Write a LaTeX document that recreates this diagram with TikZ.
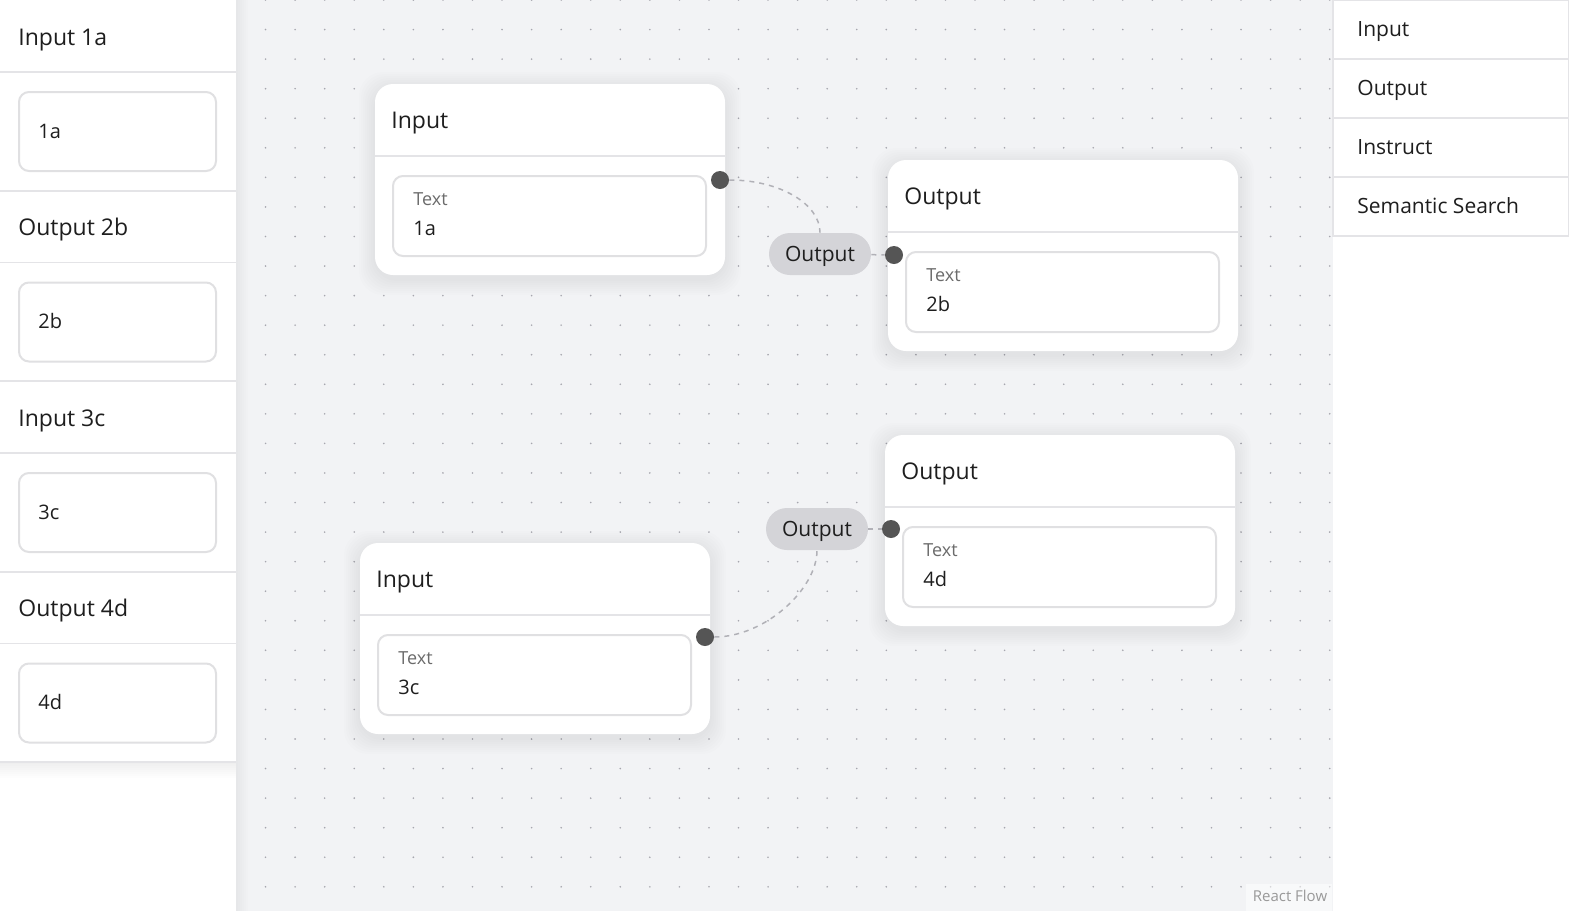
\documentclass[tikz,border=0pt]{standalone}
\usepackage{fontspec}
\setmainfont{Open Sans}
\usetikzlibrary{calc}
\definecolor{canvas}{HTML}{F2F3F5}
\definecolor{rule}{HTML}{E4E4E7}
\definecolor{boxline}{HTML}{E0E0E2}
\definecolor{handle}{HTML}{555555}
\definecolor{pill}{HTML}{D4D4D8}
\definecolor{edge}{HTML}{B1B1B7}
\definecolor{griddot}{HTML}{A6A6AE}
\definecolor{ink}{HTML}{1E1E1E}
\definecolor{label}{HTML}{6B6B6B}
\tikzset{
	hdrtext/.style={anchor=base west, inner sep=0pt, text=ink, font=\fontsize{11.5}{14}\selectfont},
	valtext/.style={anchor=base west, inner sep=0pt, text=ink, font=\fontsize{10}{12}\selectfont},
	lbltext/.style={anchor=base west, inner sep=0pt, text=label, font=\fontsize{9}{11}\selectfont},
	menutext/.style={anchor=base west, inner sep=0pt, text=ink, font=\fontsize{10.5}{12}\selectfont},
	handledot/.style={circle, fill=handle, inner sep=0pt, minimum size=9pt},
	edgepill/.style={fill=pill, rounded corners=10.5pt, minimum width=51pt, minimum height=21pt, inner sep=0pt, text height=7.5pt, text depth=0pt, text=ink, font=\fontsize{10.5}{12}\selectfont},
	flowedge/.style={draw=edge, line width=0.75pt, dash pattern=on 2.5pt off 2.5pt},
}
% card of the canvas: (left,top) name title value
\def\flowcard(#1,#2)#3#4#5{
	\foreach \s in {2,4,...,16}
		\fill[black, opacity=0.008, rounded corners=12pt] (#1-\s, #2-\s+4) rectangle (#1+350+\s, #2+191+\s+4);
	\fill[white, rounded corners=9pt] (#1, #2) rectangle (#1+350, #2+191);
	\draw[rule, line width=0.6pt] (#1, #2+72) -- (#1+350, #2+72);
	\draw[boxline, line width=1pt, fill=white, rounded corners=5pt] (#1+18, #2+92) rectangle (#1+331, #2+172);
	\node[hdrtext] (#3) at (#1+16, #2+44) {#4};
	\node[lbltext] (#3-lbl) at (#1+38, #2+121) {Text};
	\node[valtext] (#3-val) at (#1+38, #2+151) {#5};
}

\begin{document}
\begin{tikzpicture}[x=0.5pt, y=-0.5pt]
		%%%%% START %%%%%
		\useasboundingbox (0, 0) rectangle (1569, 911);
		
		\fill[canvas] (236, 0) rectangle (1333, 911);
		\foreach \i in {1,...,37}
			\foreach \j in {0,...,30}
				\fill[griddot] (236+29.56*\i, 29.56*\j) circle (0.9);
		\foreach \s in {1,...,6}
			\fill[black, opacity=0.008] (236, 0) rectangle (236+2*\s, 911);
		
		% left panel
		\fill[white] (0, 0) rectangle (236, 911);
		\foreach \s in {1,...,8}
			\fill[black, opacity=0.009] (0, 762) rectangle (236, 762+2*\s);
		\fill[white] (0, 0) rectangle (236, 762);
		\foreach \k/\hdr/\val in {0/Input 1a/1a, 1/Output 2b/2b, 2/Input 3c/3c, 3/Output 4d/4d} {
			\draw[rule, line width=0.6pt] (0, 190.5*\k+72) -- (236, 190.5*\k+72);
			\draw[rule, line width=1pt] (0, 190.5*\k+190.5) -- (236, 190.5*\k+190.5);
			\draw[boxline, line width=1pt, rounded corners=5pt] (19, 190.5*\k+92) rectangle (216, 190.5*\k+171);
			\node[hdrtext] (side\k) at (18, 190.5*\k+45) {\hdr};
			\node[valtext] (side\k-val) at (38, 190.5*\k+138) {\val};
		}
		
		% right panel
		\fill[white] (1333, 0) rectangle (1569, 911);
		\foreach \k/\item in {0/Input, 1/Output, 2/Instruct, 3/Semantic Search} {
			\draw[rule, line width=0.6pt] (1333, 59*\k) rectangle (1569, 59*\k+59);
			\node[menutext] (menu\k) at (1357, 59*\k+36) {\item};
		}
		
		% cards
		\flowcard(375,84){inA}{Input}{1a}
		\flowcard(888,160){outB}{Output}{2b}
		\flowcard(885,435){outC}{Output}{4d}
		\flowcard(360,543){inD}{Input}{3c}
		
		\node[handledot] (inA-out) at (720, 180) {};
		\node[handledot] (outB-in) at (894, 255) {};
		\node[handledot] (outC-in) at (891, 529) {};
		\node[handledot] (inD-out) at (705, 637) {};
		
		\node[edgepill] (pillB) at (820, 254) {Output};
		\node[edgepill] (pillC) at (817, 529) {Output};
		
		\draw[flowedge] (inA-out) .. controls +(60, 0) and +(0, -50) .. (pillB);
		\draw[flowedge] (pillB) -- (outB-in);
		\draw[flowedge] (inD-out) .. controls +(60, 0) and +(0, 60) .. (pillC);
		\draw[flowedge] (pillC) -- (outC-in);
		
		\fill[white, opacity=0.5] (1246, 884) rectangle (1332, 911);
		\node[text=black!40, font=\fontsize{7.5}{9}\selectfont, inner sep=0pt] (attrib) at (1290, 896) {React Flow};
		
		%%%%% END %%%%%
\end{tikzpicture}
\end{document}
